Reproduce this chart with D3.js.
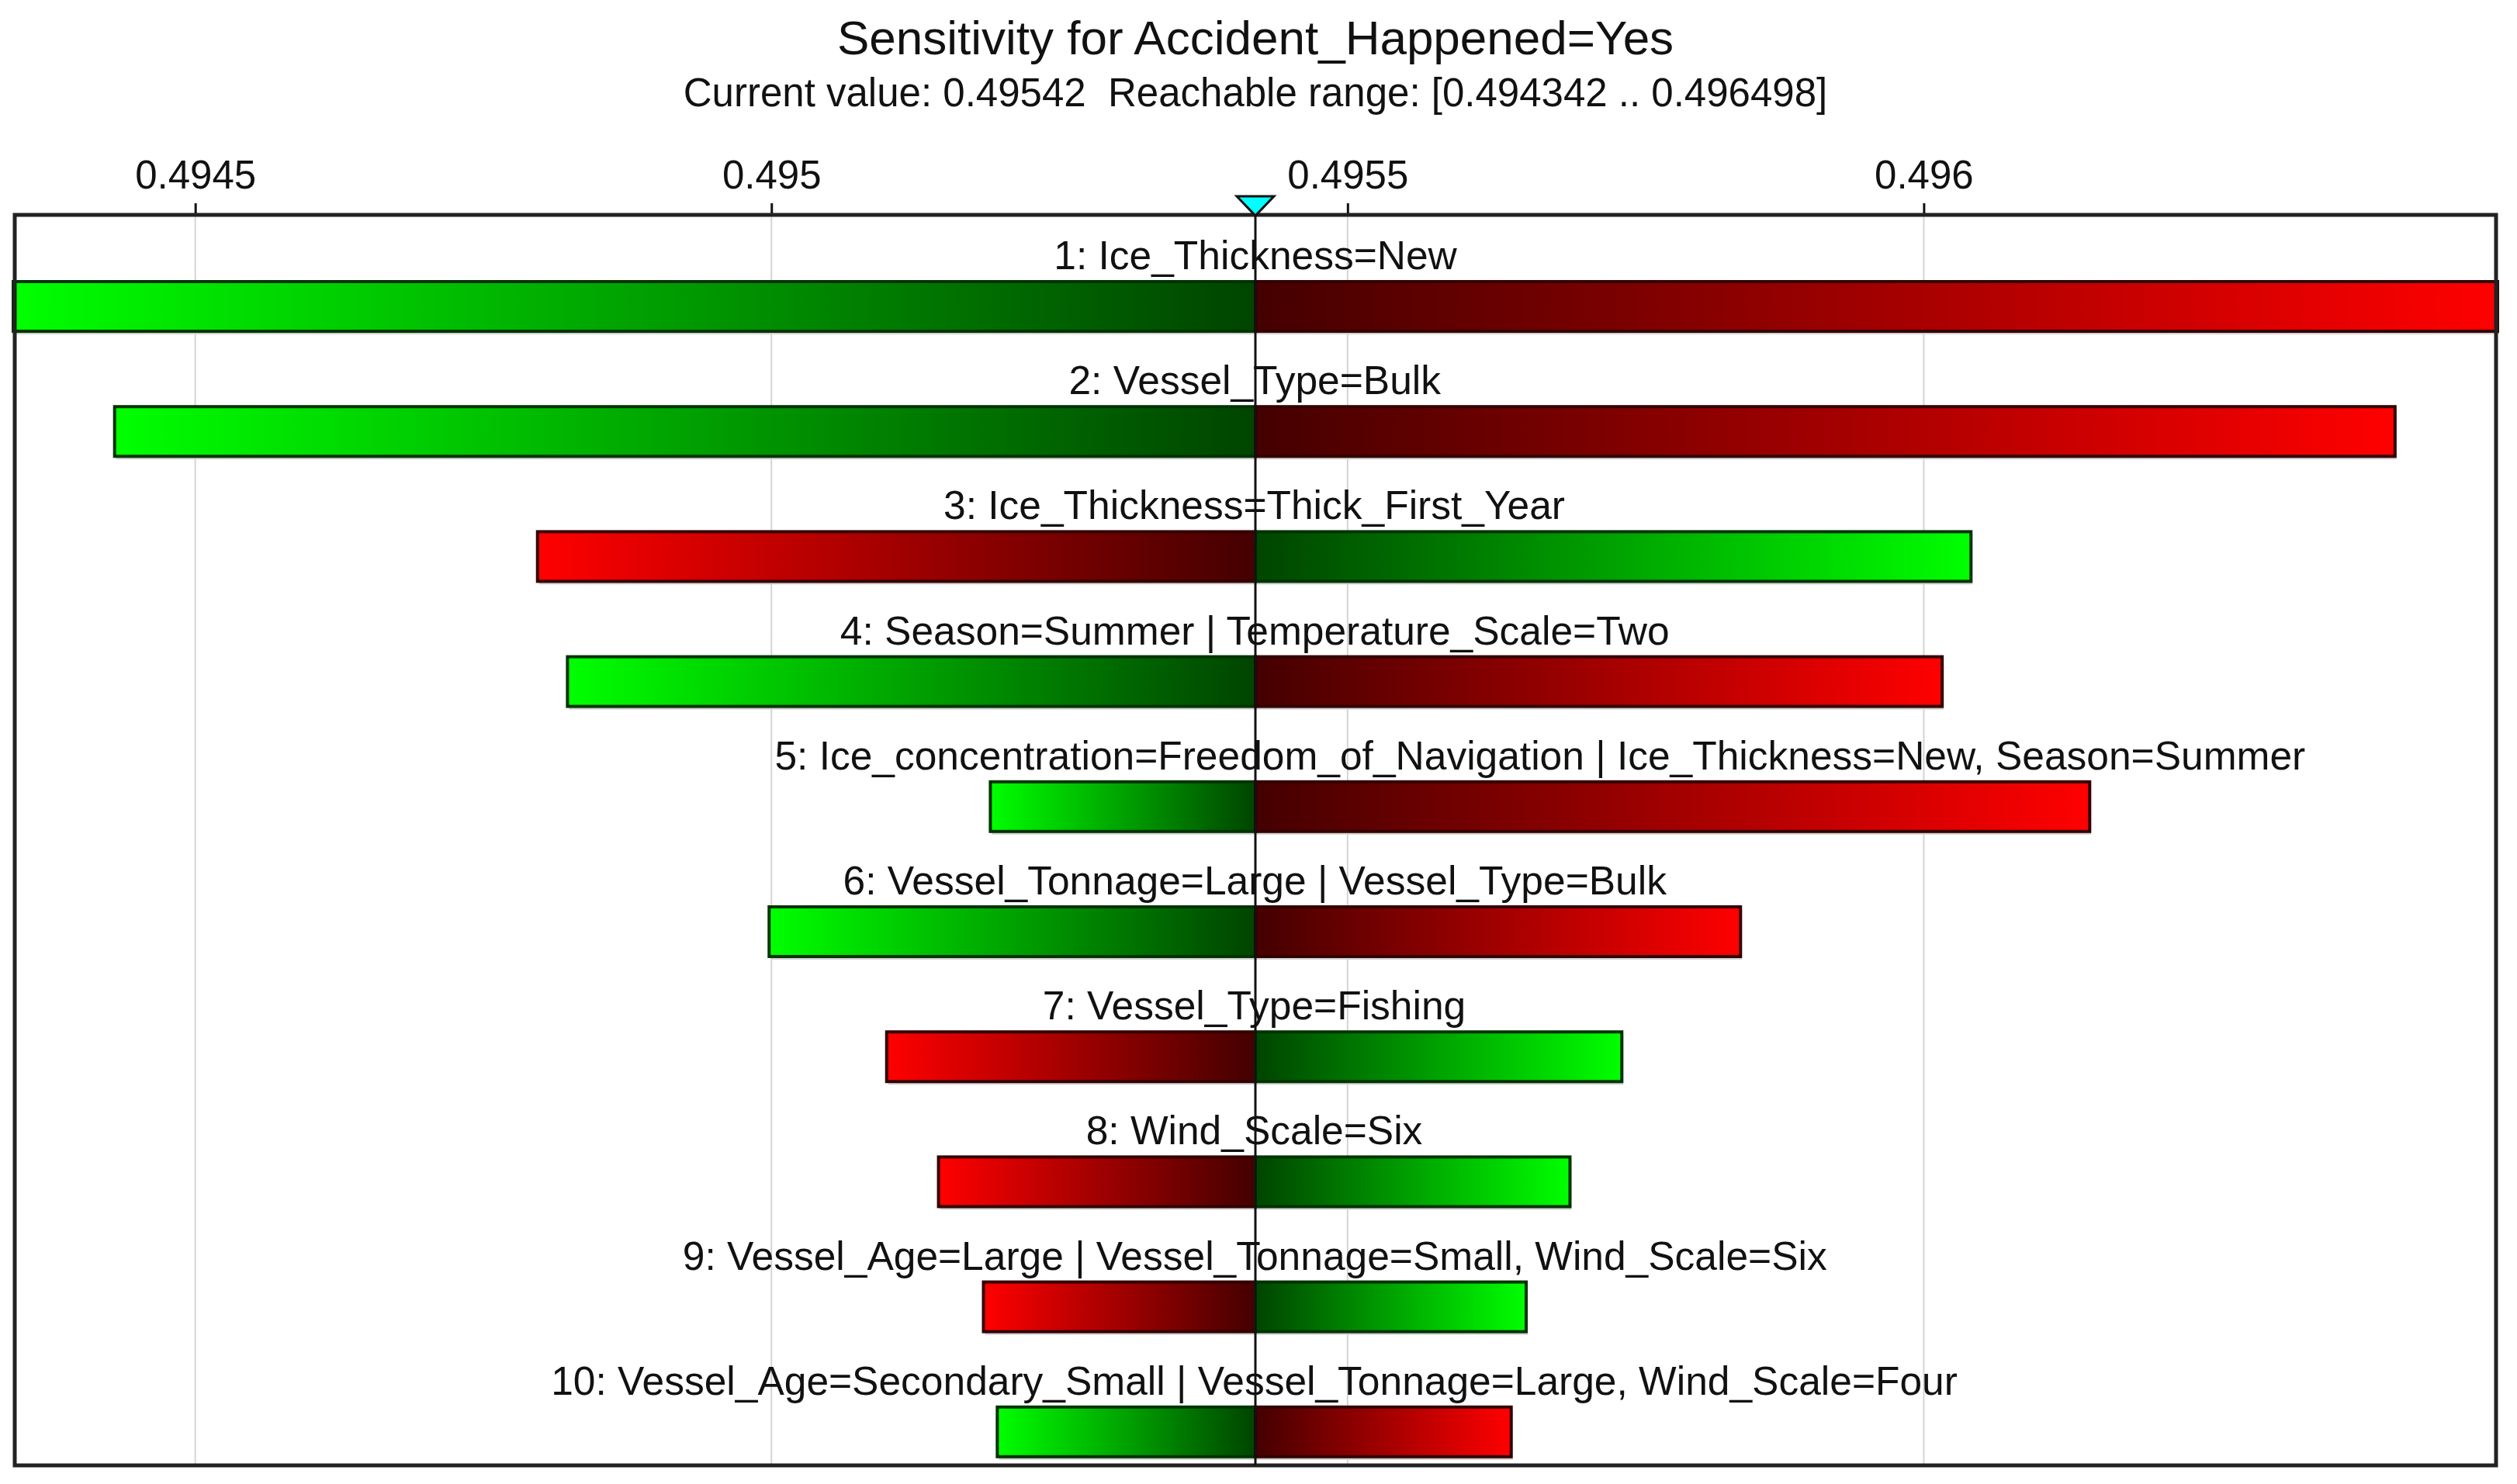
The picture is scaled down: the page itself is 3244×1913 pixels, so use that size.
<!DOCTYPE html>
<html>
<head>
<meta charset="utf-8">
<script src="https://cdn.jsdelivr.net/npm/d3@7"></script>
<style>
  html, body { margin: 0; padding: 0; background: #fff; }
  svg { display: block; font-family: "Liberation Sans", Arial, sans-serif; }
  text { white-space: pre; }
</style>
</head>
<body>
<svg id="chart" width="3244" height="1913"></svg>
<script>
// ---- data ----
const titleText = "Sensitivity for Accident_Happened=Yes";
const subtitleText = "Current value: 0.49542  Reachable range: [0.494342 .. 0.496498]";
const currentValue = 0.49542;
const reachMin = 0.494342;
const reachMax = 0.496498;

const labels = [
  "1: Ice_Thickness=New",
  "2: Vessel_Type=Bulk",
  "3: Ice_Thickness=Thick_First_Year",
  "4: Season=Summer | Temperature_Scale=Two",
  "5: Ice_concentration=Freedom_of_Navigation | Ice_Thickness=New, Season=Summer",
  "6: Vessel_Tonnage=Large | Vessel_Type=Bulk",
  "7: Vessel_Type=Fishing",
  "8: Wind_Scale=Six",
  "9: Vessel_Age=Large | Vessel_Tonnage=Small, Wind_Scale=Six",
  "10: Vessel_Age=Secondary_Small | Vessel_Tonnage=Large, Wind_Scale=Four"
];
const minValues = [0.494342, 0.494430, 0.494797, 0.494823, 0.495190, 0.494998, 0.495100, 0.495145, 0.495184, 0.495196];
const maxValues = [0.496498, 0.496409, 0.496041, 0.496016, 0.496144, 0.495841, 0.495738, 0.495693, 0.495655, 0.495642];
const leftColors = ["green", "green", "red", "green", "green", "green", "red", "red", "red", "green"];

const tickValues = [0.4945, 0.495, 0.4955, 0.496];
const tickLabels = ["0.4945", "0.495", "0.4955", "0.496"];

// ---- layout ----
const plot = { left: 17, right: 3219, top: 277, bottom: 1889 };
const svg = d3.select("#chart");

const x = d3.scaleLinear().domain([reachMin, reachMax]).range([plot.left, plot.right]);
const y = d3.scaleBand().domain(d3.range(labels.length)).range([plot.top, plot.bottom]);
const barOffset = 86, barH = 64, labelOffset = 70;

// gradients
const defs = svg.append("defs");
const palette = {
  green: { bright: "#00ff00", dark: "#004400", stroke: "#003300" },
  red:   { bright: "#ff0000", dark: "#440000", stroke: "#330000" }
};
["green", "red"].forEach(c => {
  const gl = defs.append("linearGradient").attr("id", "grad-" + c + "-L")
    .attr("x1", "0").attr("x2", "1").attr("y1", "0").attr("y2", "0");
  gl.append("stop").attr("offset", "0").attr("stop-color", palette[c].bright);
  gl.append("stop").attr("offset", "1").attr("stop-color", palette[c].dark);
  const gr = defs.append("linearGradient").attr("id", "grad-" + c + "-R")
    .attr("x1", "0").attr("x2", "1").attr("y1", "0").attr("y2", "0");
  gr.append("stop").attr("offset", "0").attr("stop-color", palette[c].dark);
  gr.append("stop").attr("offset", "1").attr("stop-color", palette[c].bright);
});

// title
svg.append("text").attr("x", x(currentValue)).attr("y", 70)
  .attr("text-anchor", "middle").attr("font-size", 62).attr("fill", "#111")
  .text(titleText);
svg.append("text").attr("x", x(currentValue)).attr("y", 137)
  .attr("text-anchor", "middle").attr("font-size", 51).attr("fill", "#111")
  .text(subtitleText);

// gridlines
svg.append("g").selectAll("line").data(tickValues).join("line")
  .attr("x1", d => x(d)).attr("x2", d => x(d))
  .attr("y1", plot.top).attr("y2", plot.bottom)
  .attr("stroke", "#d4d4d4").attr("stroke-width", 2);

// axis
const axis = d3.axisTop(x).tickValues(tickValues)
  .tickFormat((d, i) => tickLabels[i]).tickSize(15).tickPadding(19);
const gAxis = svg.append("g").attr("transform", `translate(0,${plot.top})`).call(axis);
gAxis.select(".domain").remove();
gAxis.selectAll(".tick line").attr("stroke", "#111").attr("stroke-width", 3);
gAxis.selectAll(".tick text").attr("font-size", 51).attr("fill", "#111")
  .attr("font-family", "Liberation Sans, Arial, sans-serif");

// bars
const rows = labels.map((l, i) => ({ i, label: l, min: minValues[i], max: maxValues[i], left: leftColors[i] }));
const gBars = svg.append("g");
rows.forEach(r => {
  const rightC = r.left === "green" ? "red" : "green";
  const top = y(r.i) + barOffset;
  gBars.append("rect")
    .attr("x", x(r.min) + 2).attr("y", top + 4)
    .attr("width", x(r.max) - x(r.min)).attr("height", barH)
    .attr("fill", "#cfcfcf");
  gBars.append("rect")
    .attr("x", x(r.min)).attr("y", top)
    .attr("width", x(currentValue) - x(r.min)).attr("height", barH)
    .attr("fill", `url(#grad-${r.left}-L)`)
    .attr("stroke", palette[r.left].stroke).attr("stroke-width", 4);
  gBars.append("rect")
    .attr("x", x(currentValue)).attr("y", top)
    .attr("width", x(r.max) - x(currentValue)).attr("height", barH)
    .attr("fill", `url(#grad-${rightC}-R)`)
    .attr("stroke", palette[rightC].stroke).attr("stroke-width", 4);
});

// labels
svg.append("g").selectAll("text").data(rows).join("text")
  .attr("x", d => x((d.min + d.max) / 2))
  .attr("y", d => y(d.i) + labelOffset)
  .attr("text-anchor", "middle").attr("font-size", 51.5).attr("fill", "#111")
  .text(d => d.label);

// frame
svg.append("rect")
  .attr("x", plot.left + 2).attr("y", plot.top)
  .attr("width", plot.right - plot.left - 4).attr("height", plot.bottom - plot.top)
  .attr("fill", "none").attr("stroke", "#222").attr("stroke-width", 5);

// current value line
svg.append("line")
  .attr("x1", x(currentValue)).attr("x2", x(currentValue))
  .attr("y1", plot.top).attr("y2", plot.bottom)
  .attr("stroke", "#111").attr("stroke-width", 3);

// marker triangle
const cx = x(currentValue);
svg.append("path")
  .attr("d", d3.line()([[cx - 24, plot.top - 24], [cx + 24, plot.top - 24], [cx, plot.top + 1]]) + "Z")
  .attr("fill", "#00ffff").attr("stroke", "#111").attr("stroke-width", 3)
  .attr("stroke-linejoin", "miter");
</script>
</body>
</html>
